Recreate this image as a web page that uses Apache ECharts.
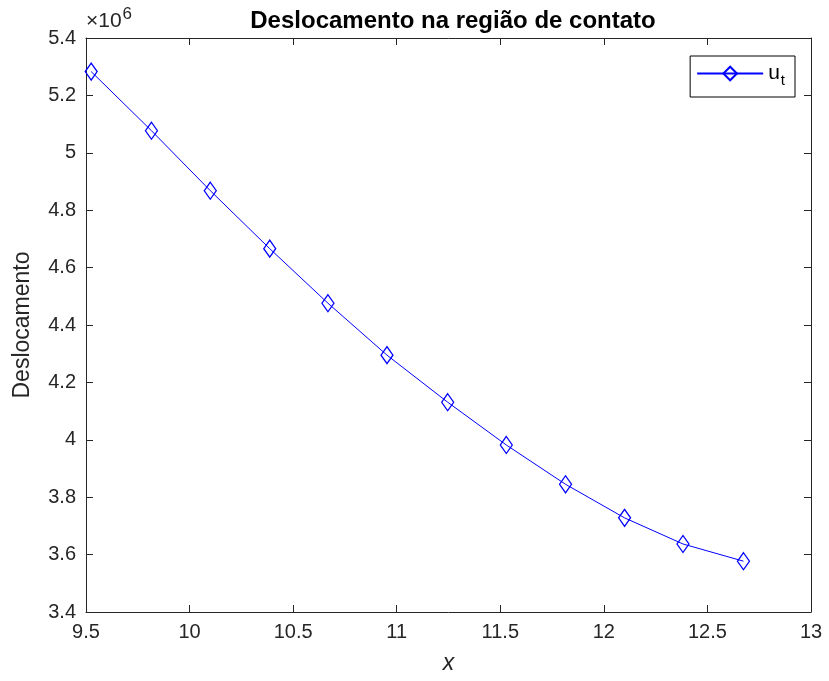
<!DOCTYPE html>
<html>
<head>
<meta charset="utf-8">
<title>Deslocamento na região de contato</title>
<script src="https://cdn.jsdelivr.net/npm/echarts@6/dist/echarts.min.js"></script>
<style>
  html, body { margin: 0; padding: 0; background: #fff; }
  #chart { width: 829px; height: 681px; }
</style>
</head>
<body>
<div id="chart"></div>
<script>
// dados
const xPos = [9.525, 9.816, 10.100, 10.387, 10.668, 10.953, 11.246, 11.529, 11.815, 12.100, 12.382, 12.674]
const deslocamento = [5.283e6, 5.077e6, 4.868e6, 4.666e6, 4.476e6, 4.295e6, 4.131e6, 3.982e6, 3.845e6, 3.728e6, 3.637e6, 3.577e6]
const seriesName = 'u_t'

const font = 'Liberation Sans, Arial, Helvetica, sans-serif'
const axisColor = '#262626'

let myChart = echarts.init(document.getElementById('chart'))

const tickOnly = {
  axisLine: { show: true, lineStyle: { color: axisColor, width: 1 } },
  axisTick: { show: true, inside: true, length: 7, lineStyle: { color: axisColor } },
  splitLine: { show: false }
}

var option = {
  backgroundColor: '#fff',
  animation: false,
  title: {
    text: 'Deslocamento na região de contato',
    left: 448, top: 4, textAlign: 'center',
    textStyle: { fontFamily: font, fontSize: 24, fontWeight: 'bold', color: '#000' }
  },
  legend: {
    right: 34, top: 56,
    padding: [7, 10, 9, 6],
    itemWidth: 66, itemHeight: 17,
    borderColor: '#000', borderWidth: 1,
    backgroundColor: '#fff',
    data: [seriesName],
    formatter: () => '{a|u}{b|t}',
    textStyle: {
      rich: {
        a: { fontFamily: font, fontSize: 21, color: '#000' },
        b: { fontFamily: font, fontSize: 15, color: '#000', padding: [14, 0, 0, 1] }
      }
    }
  },
  grid: { left: 86, right: 18, top: 38, bottom: 69, outerBoundsMode: 'none' },
  xAxis: [{
    type: 'value', min: 9.5, max: 13, interval: 0.5,
    ...tickOnly,
    axisLabel: { fontFamily: font, fontSize: 20, color: axisColor, margin: 10 },
    name: 'x', nameLocation: 'middle', nameGap: 40,
    nameTextStyle: { fontFamily: font, fontSize: 23, fontStyle: 'italic', color: axisColor }
  }, {
    type: 'value', position: 'top', min: 9.5, max: 13, interval: 0.5,
    ...tickOnly, axisLabel: { show: false }
  }],
  yAxis: [{
    type: 'value', min: 3.4e6, max: 5.4e6, interval: 0.2e6,
    ...tickOnly,
    axisLabel: {
      fontFamily: font, fontSize: 20, color: axisColor, margin: 10,
      formatter: v => String(parseFloat((v / 1e6).toFixed(1)))
    },
    name: 'Deslocamento', nameLocation: 'middle', nameGap: 52,
    nameTextStyle: { fontFamily: font, fontSize: 23, color: axisColor }
  }, {
    type: 'value', position: 'right', min: 3.4e6, max: 5.4e6, interval: 0.2e6,
    ...tickOnly, axisLabel: { show: false }
  }],
  graphic: [{
    type: 'text', left: 86, top: 6,
    style: {
      text: '{a|×10}{b|6}',
      rich: {
        a: { fontFamily: font, fontSize: 21, fill: axisColor },
        b: { fontFamily: font, fontSize: 17, fill: axisColor, padding: [0, 0, 13, 1] }
      }
    }
  }],
  series: [{
    name: seriesName,
    type: 'line',
    data: xPos.map((x, i) => [x, deslocamento[i]]),
    symbol: 'diamond',
    symbolSize: [12, 17],
    showAllSymbol: true,
    lineStyle: { color: '#0000ff', width: 1 },
    itemStyle: { color: 'rgba(255,255,255,0)', borderColor: '#0000ff', borderWidth: 1.3 },
    emphasis: { disabled: true }
  }]
}

myChart.setOption(option)
</script>
</body>
</html>
